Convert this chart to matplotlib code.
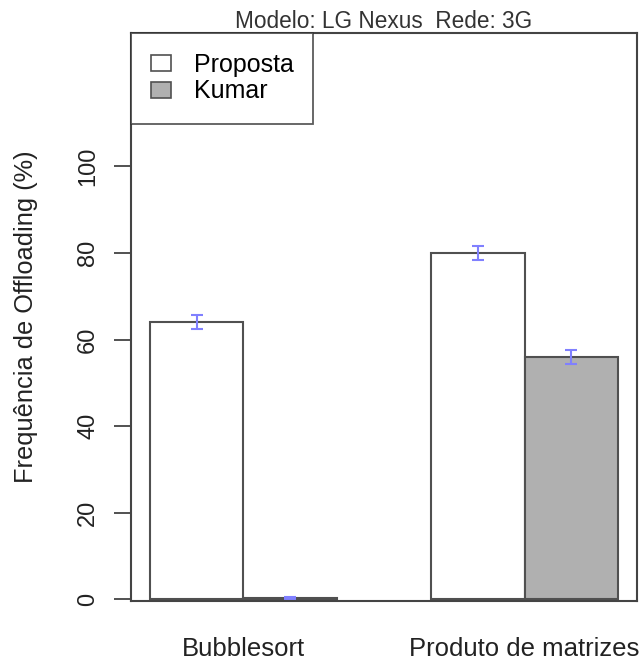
import numpy as np
import matplotlib
matplotlib.use('Agg')
import matplotlib.pyplot as plt
from matplotlib.patches import Patch

plt.rcParams['font.family'] = ['Liberation Sans', 'DejaVu Sans']

# data
groups = ['Bubblesort', 'Produto de matrizes']
series = ['Proposta', 'Kumar']
proposta = [64.0, 80.0]
kumar = [0.3, 56.0]
proposta_err = [1.6, 1.6]
kumar_err = [0.3, 1.6]
yticks = [0, 20, 40, 60, 80, 100]

# R barplot style positions: width 1, space c(0, 1)
left_prop = np.array([1.0, 4.0])
left_kum = left_prop + 1.0
centers = left_prop + 1.0

fig = plt.figure(figsize=(6.41, 6.63), dpi=100)
ax = fig.add_axes([131 / 641, 62 / 663, 506 / 641, 568 / 663])

edge = '#505050'
ax.bar(left_prop, proposta, width=1.0, align='edge', color='white', edgecolor=edge, linewidth=1.5)
ax.bar(left_kum, kumar, width=1.0, align='edge', color='#b0b0b0', edgecolor=edge, linewidth=1.5)

ax.errorbar(left_prop + 0.5, proposta, yerr=proposta_err, fmt='none', ecolor='#8080ff',
            elinewidth=1.5, capsize=4.3, capthick=1.5)
ax.errorbar(left_kum + 0.5, kumar, yerr=kumar_err, fmt='none', ecolor='#8080ff',
            elinewidth=1.5, capsize=4.3, capthick=1.5)

ax.set_xlim(0.8, 6.2)
ax.set_ylim(-0.4, 130.8)

ax.set_yticks(yticks)
ax.set_yticklabels([str(v) for v in yticks], rotation=90, va='center', fontsize=17, color='#222222')
ax.tick_params(axis='y', direction='out', length=12, width=1.2, pad=11, color='#333333')
ax.set_xticks(centers)
ax.set_xticklabels(groups, fontsize=18.5, color='#222222')
ax.tick_params(axis='x', length=0, pad=26)

for s in ax.spines.values():
    s.set_linewidth(1.5)
    s.set_color('#444444')

ax.set_ylabel('Frequência de Offloading (%)', fontsize=18.3, color='#222222')
ax.yaxis.set_label_coords(-0.184, 0.5)
ax.set_title('Modelo: LG Nexus  Rede: 3G', fontsize=16.3, color='#333333', pad=3.5)

handles = [Patch(facecolor='white', edgecolor=edge, linewidth=1.2),
           Patch(facecolor='#b0b0b0', edgecolor=edge, linewidth=1.2)]
leg = ax.legend(handles, series, loc='upper left', bbox_to_anchor=(0, 1), borderaxespad=0,
                fontsize=18, frameon=True, fancybox=False, edgecolor='#333333',
                handlelength=0.8, handleheight=0.6, handletextpad=0.9, labelspacing=0.1,
                borderpad=0.8)
leg.get_frame().set_linewidth(1.3)

fig.savefig('out.png', dpi=100)
